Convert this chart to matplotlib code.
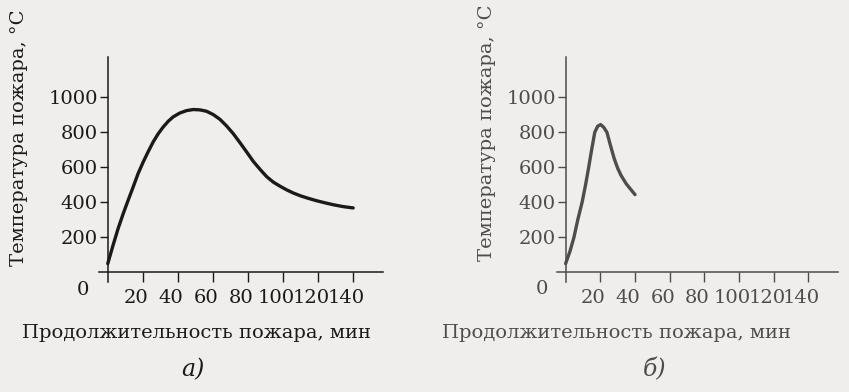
import matplotlib.pyplot as plt
from matplotlib.transforms import ScaledTranslation

# fire duration, min / temperature, C  (a - open fire, b - closed room)
time_a = [0, 3, 5.9, 8.8, 11.6, 14.5, 17.3, 20.2, 23, 25.9, 28.8, 31.6, 34.5, 37.3, 41.1,
          45, 48.8, 52.6, 56.4, 60.2, 64, 67.8, 71.6, 75.4, 79.2, 83, 86.9, 90.7, 94.5,
          98.3, 102.1, 105.9, 109.7, 114, 119.2, 124, 128.8, 134, 140]
temp_a = [50, 154, 250, 335, 411, 488, 564, 630, 688, 745, 792, 830, 863, 888, 910,
          924, 930, 928, 920, 901, 874, 836, 792, 741, 688, 634, 588, 546, 515,
          492, 471, 453, 438, 424, 409, 397, 386, 376, 368]

time_b = [0, 2.5, 4.8, 7, 9.5, 11.5, 13.3, 15, 16.8, 18.5, 20.2, 22, 23.8, 26, 28, 30, 32, 35, 40]
temp_b = [50, 120, 200, 300, 400, 500, 600, 700, 800, 835, 844, 828, 800, 720, 650, 595, 553, 505, 444]

xticks = [20, 40, 60, 80, 100, 120, 140]
yticks = [200, 400, 600, 800, 1000]

ylabel = 'Температура пожара, °С'
xlabel = 'Продолжительность пожара, мин'
panel_names = ['а)', 'б)']

bg = '#efeeec'
plt.rcParams['font.family'] = ['DejaVu Serif']
fs = 14

fig = plt.figure(figsize=(8.49, 3.92), dpi=100, facecolor=bg)

def draw(rect, t, temp, col, lw):
    ax = fig.add_axes(rect)
    ax.set_facecolor('none')
    ax.plot(t, temp, color=col, lw=lw, solid_capstyle='round', solid_joinstyle='round')
    ax.set_xlim(-5, 157)
    ax.set_ylim(-55, 1230)
    for s in ['top', 'right']:
        ax.spines[s].set_visible(False)
    ax.spines['left'].set_position(('data', 0))
    ax.spines['bottom'].set_position(('data', 0))
    for s in ['left', 'bottom']:
        ax.spines[s].set_color(col)
        ax.spines[s].set_linewidth(1.1)
    ax.set_xticks(xticks)
    ax.set_yticks(yticks)
    ax.tick_params(axis='x', direction='out', length=7, width=1.0, pad=5,
                   colors=col, labelsize=fs)
    ax.tick_params(axis='y', direction='out', length=6, width=1.0, pad=1,
                   colors=col, labelsize=fs)
    # labels printed a bit to the left of their ticks in the book
    off = ScaledTranslation(-0.07, 0, fig.dpi_scale_trans)
    for lab in ax.get_xticklabels():
        lab.set_transform(lab.get_transform() + off)
    return ax

ax1 = draw([0.1166, 0.2806, 0.3345, 0.574], time_a, temp_a, '#1a1a1a', 2.4)
ax2 = draw([0.656, 0.2806, 0.331, 0.574], time_b, temp_b, '#4d4d4d', 2.4)

# zero at the origin, y labels, x labels, panel letters
fig.text(83 / 849, 1 - 290 / 392, '0', fontsize=fs, color='#1a1a1a', ha='center', va='center')
fig.text(542 / 849, 1 - 289 / 392, '0', fontsize=fs, color='#4d4d4d', ha='center', va='center')

fig.text(19 / 849, 1 - 138 / 392, ylabel, rotation=90, fontsize=fs, color='#1a1a1a',
         ha='center', va='center')
fig.text(487 / 849, 1 - 133 / 392, ylabel, rotation=90, fontsize=fs, color='#4d4d4d',
         ha='center', va='center')

fig.text(196 / 849, 1 - 333 / 392, xlabel, fontsize=fs, color='#1a1a1a', ha='center', va='center')
fig.text(616 / 849, 1 - 333 / 392, xlabel, fontsize=fs, color='#4d4d4d', ha='center', va='center')

fig.text(193 / 849, 1 - 370 / 392, panel_names[0], fontsize=17, style='italic', color='#1a1a1a',
         ha='center', va='center')
fig.text(655 / 849, 1 - 370 / 392, panel_names[1], fontsize=17, style='italic', color='#4d4d4d',
         ha='center', va='center')

fig.savefig('out.png', dpi=100, facecolor=bg)
